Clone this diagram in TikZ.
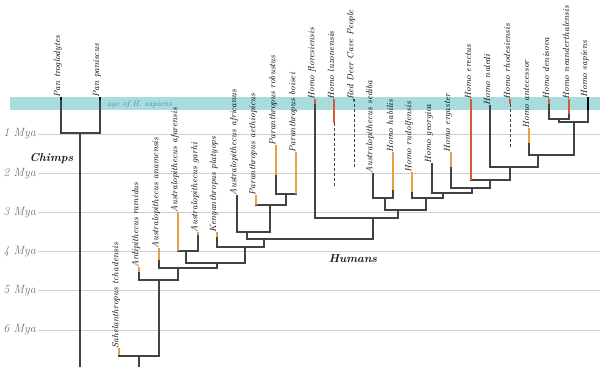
\documentclass[tikz,border=0pt]{standalone}
\usepackage{xcolor}
\definecolor{treec}{HTML}{424242}
\definecolor{gridc}{HTML}{CFCFCF}
\definecolor{orng}{HTML}{E5A04A}
\definecolor{redt}{HTML}{D65A35}
\definecolor{bandc}{HTML}{A8DCDF}
\definecolor{bandtxt}{HTML}{3C9AA2}
\begin{document}
\begin{tikzpicture}[x=1pt,y=-1pt,
  tree/.style={draw=treec, line width=1.1pt},
  otip/.style={draw=orng, line width=2.3pt},
  rtip/.style={draw=redt, line width=2.3pt},
  btip/.style={draw=black, line width=2.3pt},
  gtip/.style={draw=treec, line width=2.3pt},
  dline/.style={draw=treec, line width=0.9pt, dash pattern=on 2.5pt off 2.5pt},
  gridl/.style={draw=gridc, line width=0.9pt},
  sp/.style={rotate=90, anchor=west, font=\fontsize{9}{10}\selectfont\itshape, text=black, inner sep=0pt, yshift=3pt, xshift=-0.5pt},
  mya/.style={anchor=east, font=\fontsize{12}{13}\selectfont\itshape, text=black!55, inner sep=0pt},
  clade/.style={font=\fontsize{11.5}{13}\selectfont\bfseries\itshape, text=black!90, inner sep=0pt},
  bandlbl/.style={anchor=west, font=\fontsize{8}{9}\selectfont\itshape, text=bandtxt, inner sep=0pt}
]
\useasboundingbox (0,0) rectangle (600,367);
% band
\fill[bandc] (10,97) rectangle (600,110);
\node[bandlbl] (bandlabel) at (107,104) {age of H. sapiens};
% grid
\foreach \k/\yy in {1/134,2/173.2,3/212.4,4/251.6,5/290.8,6/330} {
  \draw[gridl] (38,\yy) -- (600,\yy);
  \node[mya] (mya\k) at (36,\yy) {\k\ Mya};
}
% tips
\coordinate (pt) at (61,97);
\coordinate (pp) at (100,97);
\coordinate (sah) at (119,348);
\coordinate (ard) at (139,267);
\coordinate (ana) at (159,248);
\coordinate (afa) at (178,212);
\coordinate (gar) at (198,232);
\coordinate (ken) at (217,232);
\coordinate (afr) at (237,195);
\coordinate (aet) at (256,195);
\coordinate (rob) at (276,145);
\coordinate (boi) at (296,152);
\coordinate (flo) at (315,99);
\coordinate (luz) at (334,99);
\coordinate (rdc) at (354,99);
\coordinate (sed) at (373,173);
\coordinate (hab) at (393,152);
\coordinate (rud) at (412,172);
\coordinate (geo) at (432,163);
\coordinate (erg) at (451,152);
\coordinate (ere) at (471,99);
\coordinate (nal) at (490,105);
\coordinate (rho) at (510,99);
\coordinate (ant) at (529,128);
\coordinate (den) at (549,99);
\coordinate (nea) at (569,99);
\coordinate (sap) at (588,97);
% junctions
\coordinate (jchimp) at (80,133);
\coordinate (chroot) at (80,367);
\coordinate (jden) at (559,119);
\coordinate (jsap) at (574,122);
\coordinate (jant) at (538,155);
\coordinate (jnal) at (510,167);
\coordinate (jere) at (490,180);
\coordinate (jerg) at (472,188);
\coordinate (jgeo) at (443,193);
\coordinate (jrud) at (426,198);
\coordinate (jhab) at (385,198);
\coordinate (jhabrud) at (398,210);
\coordinate (jflo) at (373,218);
\coordinate (jboi) at (286,194);
\coordinate (jaet) at (270,205);
\coordinate (jafr) at (247,232);
\coordinate (jhomo) at (264,239);
\coordinate (jken) at (245,247);
\coordinate (jafa) at (186,251);
\coordinate (jaus) at (217,263);
\coordinate (jana) at (178,268);
\coordinate (jard) at (159,280);
\coordinate (jsah) at (139,356);
\coordinate (hroot) at (139,367);
% tree
\draw[tree] (pt) |- (jchimp) -| (pp);
\draw[tree] (jchimp) -- (chroot);
\draw[tree] (den) |- (jden) -| (nea);
\draw[tree] (jden) |- (jsap) -| (sap);
\draw[tree] (ant) |- (jant) -| (jsap);
\draw[tree] (nal) |- (jnal) -| (jant);
\draw[tree] (ere) |- (jere) -| (jnal);
\draw[tree] (erg) |- (jerg) -| (jere);
\draw[tree] (geo) |- (jgeo) -| (jerg);
\draw[tree] (rud) |- (jrud) -| (jgeo);
\draw[tree] (sed) |- (jhab) -| (hab);
\draw[tree] (jhab) |- (jhabrud) -| (jrud);
\draw[tree] (flo) |- (jflo) -| (jhabrud);
\draw[tree] (rob) |- (jboi) -| (boi);
\draw[tree] (aet) |- (jaet) -| (jboi);
\draw[tree] (afr) |- (jafr) -| (jaet);
\draw[tree] (jafr) |- (jhomo) -| (jflo);
\draw[tree] (ken) |- (jken) -| (jhomo);
\draw[tree] (afa) |- (jafa) -| (gar);
\draw[tree] (jafa) |- (jaus) -| (jken);
\draw[tree] (ana) |- (jana) -| (jaus);
\draw[tree] (ard) |- (jard) -| (jana);
\draw[tree] (sah) |- (jsah) -| (jard);
\draw[tree] (jsah) -- (hroot);
% dashed lineages
\draw[dline] (luz) ++(0,24) -- ++(0,65);
\draw[dline] (rdc) -- ++(0,68);
\draw[dline] (rho) ++(0,5) -- ++(0,44);
% coloured tips
\draw[btip] (pt) -- ++(0,3);
\draw[btip] (pp) -- ++(0,3);
\draw[otip] (sah) -- ++(0,7);
\draw[otip] (ard) -- ++(0,5);
\draw[otip] (ana) -- ++(0,12);
\draw[otip] (afa) -- ++(0,39);
\draw[otip] (gar) -- ++(0,3);
\draw[otip] (ken) -- ++(0,5);
\draw[otip] (aet) -- ++(0,10);
\draw[otip] (rob) -- ++(0,30);
\draw[otip] (boi) -- ++(0,42);
\draw[rtip] (flo) -- ++(0,5);
\draw[rtip] (luz) -- ++(0,24);
\draw[gtip] (rdc) -- ++(0,2);
\draw[otip] (hab) -- ++(0,38);
\draw[otip] (rud) -- ++(0,20);
\draw[otip] (erg) -- ++(0,15);
\draw[rtip] (ere) -- ++(0,81);
\draw[gtip] (nal) -- ++(0,3);
\draw[rtip] (rho) -- ++(0,5);
\draw[otip] (ant) -- ++(0,15);
\draw[rtip] (den) -- ++(0,5);
\draw[rtip] (nea) -- ++(0,15);
\draw[btip] (sap) -- ++(0,13);
% labels
\node[sp] (lpt) at (pt) {Pan troglodytes};
\node[sp] (lpp) at (pp) {Pan paniscus};
\node[sp] (lsah) at (sah) {Sahelanthropus tchadensis};
\node[sp] (lard) at (ard) {Ardipithecus ramidus};
\node[sp] (lana) at (ana) {Australopithecus anamensis};
\node[sp] (lafa) at (afa) {Australopithecus afarensis};
\node[sp] (lgar) at (gar) {Australopithecus garhi};
\node[sp] (lken) at (ken) {Kenyanthropus platyops};
\node[sp] (lafr) at (afr) {Australopithecus africanus};
\node[sp] (laet) at (aet) {Paranthropus aethiopicus};
\node[sp] (lrob) at (rob) {Paranthropus robustus};
\node[sp] (lboi) at (boi) {Paranthropus boisei};
\node[sp] (lflo) at (flo) {Homo floresiensis};
\node[sp] (lluz) at (luz) {Homo luzonensis};
\node[sp] (lrdc) at (rdc) {Red Deer Cave People};
\node[sp] (lsed) at (sed) {Australopithecus sediba};
\node[sp] (lhab) at (hab) {Homo habilis};
\node[sp] (lrud) at (rud) {Homo rudolfensis};
\node[sp] (lgeo) at (geo) {Homo georgica};
\node[sp] (lerg) at (erg) {Homo ergaster};
\node[sp] (lere) at (ere) {Homo erectus};
\node[sp] (lnal) at (nal) {Homo naledi};
\node[sp] (lrho) at (rho) {Homo rhodesiensis};
\node[sp] (lant) at (ant) {Homo antecessor};
\node[sp] (lden) at (den) {Homo denisova};
\node[sp] (lnea) at (nea) {Homo neanderthalensis};
\node[sp] (lsap) at (sap) {Homo sapiens};
% clade labels
\node[clade] (chimps) at (51.5,159) {Chimps};
\node[clade] (humans) at (353,259) {Humans};
\end{tikzpicture}
\end{document}
